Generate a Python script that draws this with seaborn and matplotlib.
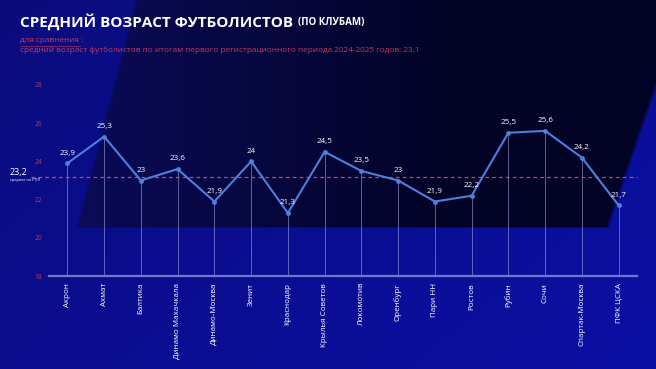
import numpy as np
import pandas as pd
import seaborn as sns
import matplotlib.pyplot as plt

# data
clubs = ['Акрон', 'Ахмат', 'Балтика', 'Динамо Махачкала', 'Динамо-Москва', 'Зенит',
         'Краснодар', 'Крылья Советов', 'Локомотив', 'Оренбург', 'Пари НН', 'Ростов',
         'Рубин', 'Сочи', 'Спартак-Москва', 'ПФК ЦСКА']
ages = [23.9, 25.3, 23.0, 23.6, 21.9, 24.0, 21.3, 24.5, 23.5, 23.0, 21.9, 22.2,
        25.5, 25.6, 24.2, 21.7]
rpl_mean = 23.2
prev_mean = '23,1'
y_ticks = [18, 20, 22, 24, 26, 28]

df = pd.DataFrame({'club': clubs, 'age': ages})

sns.set_style('white')
plt.rcParams['font.family'] = ['Open Sans', 'DejaVu Sans']

fig = plt.figure(figsize=(6.56, 3.69), dpi=100)

# background: dark slanted panel over a blue backdrop
bg = fig.add_axes([0, 0, 1, 1], zorder=-10)
h, w = 369, 656
yy, xx = np.mgrid[0:h, 0:w].astype(float)
left_b = 136 - (136 - 77) * yy / 227
right_b = 607 + (656 - 607) * (227 - yy) / (227 - 83)
d_left = (xx - left_b) / 4
d_right = (right_b - xx) / 4
d_bot = (227 - yy) / 2
inside = np.clip(np.minimum(np.minimum(d_left, d_right), d_bot) + 0.5, 0, 1)
blue = np.array([10, 12, 125]) / 255
blue_hi = np.array([10, 16, 165]) / 255
tb = np.clip((xx / w) * 0.6 + (yy / h) * 0.4, 0, 1)[..., None]
outer = blue + tb * (blue_hi - blue)
dark_a = np.array([10, 10, 85]) / 255
dark_b = np.array([3, 3, 38]) / 255
td = np.clip((xx - 100) / 350, 0, 1)[..., None]
inner = dark_a + td * (dark_b - dark_a)
img = outer + inside[..., None] * (inner - outer)
bg.imshow(img, aspect='auto', extent=[0, 1, 0, 1], origin='upper')
bg.axis('off')

ax = fig.add_axes([49 / 656, 1 - 276 / 369, (637 - 49) / 656, (276 - 85) / 369])
ax.patch.set_alpha(0)

x = np.arange(len(clubs))
ax.vlines(x, 18, df['age'], color='#9aa0d8', lw=0.7, alpha=0.6, zorder=1)
sns.lineplot(data=df, x='club', y='age', ax=ax, color='#4d7fdc', lw=1.5,
             marker='o', markersize=3.5, markeredgewidth=0, sort=False, zorder=3)

for i, v in enumerate(ages):
    lbl = f'{v:g}'.replace('.', ',')
    ax.text(i, v + 0.35, lbl, color='white', fontsize=5.8, ha='center', va='bottom')

ax.axhline(rpl_mean, xmin=-0.031, xmax=1.0, color='#d0406c', lw=0.9,
           ls=(0, (3, 2.5)), clip_on=False, zorder=2)

ax.set_xlim(-0.5, len(clubs) - 0.5)
ax.set_ylim(18, 28)
ax.set_yticks(y_ticks)
ax.set_yticklabels([str(v) for v in y_ticks], color='#a83c62', fontsize=4.8)
ax.tick_params(axis='y', length=0, pad=5)
ax.tick_params(axis='x', length=0, pad=5)
ax.set_xticks(x)
ax.set_xticklabels(clubs, rotation=90, color='white', fontsize=5.8, va='top')
ax.set_xlabel('')
ax.set_ylabel('')
for s in ['top', 'right', 'left']:
    ax.spines[s].set_visible(False)
ax.spines['bottom'].set_color('#7078c8')
ax.spines['bottom'].set_linewidth(1.6)

# reference label on the left
fig.text(10 / 656, 1 - 172 / 369, '23,2', color='white', fontsize=6.5, va='center')
fig.text(10 / 656, 1 - 180 / 369, 'среднее по РПЛ', color='white', fontsize=2.8, va='center')

# titles
fig.text(20 / 656, 1 - 22 / 369, 'СРЕДНИЙ ВОЗРАСТ ФУТБОЛИСТОВ', color='white',
         fontsize=11, fontweight='bold', va='center')
fig.text(298 / 656, 1 - 22.5 / 369, '(ПО КЛУБАМ)', color='white',
         fontsize=7, fontweight='bold', va='center')
red = '#c23c62'
fig.text(20 / 656, 1 - 41 / 369, 'для сравнения', color=red, fontsize=5.9,
         va='center')
fig.add_artist(plt.Line2D([20 / 656, 80 / 656], [1 - 45.5 / 369, 1 - 45.5 / 369],
                          color=red, lw=0.4))
fig.text(80 / 656, 1 - 41 / 369, ':', color=red, fontsize=5.9, va='center')
fig.text(20 / 656, 1 - 50.5 / 369,
         'средний возраст футболистов по итогам первого регистрационного периода 2024-2025 годов: '
         + prev_mean, color=red, fontsize=5.9, va='center')

fig.savefig('out.png', dpi=100)
